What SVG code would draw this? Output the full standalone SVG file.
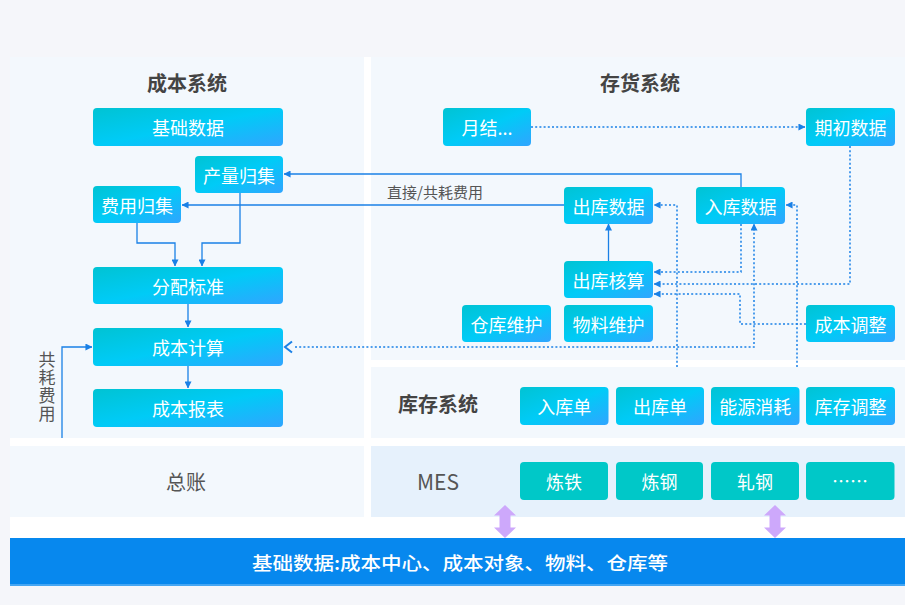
<svg xmlns="http://www.w3.org/2000/svg" width="905" height="605" viewBox="0 0 905 605">
<defs>
<linearGradient id="g" x1="0" y1="0" x2="1" y2="1">
<stop offset="0" stop-color="#00c3d3"/>
<stop offset="0.5" stop-color="#00cbf7"/>
<stop offset="1" stop-color="#30a5ff"/>
</linearGradient>
<marker id="a" viewBox="0 0 8 8" refX="7.5" refY="4" markerWidth="7" markerHeight="7" markerUnits="userSpaceOnUse" orient="auto">
<path d="M0,0 L8,4 L0,8 z" fill="#1a80e6"/>
</marker>
<style>
.bg{fill:#f5f6fa}
.panel{fill:#f3f8fd}
.mes{fill:#e6f1fc}
.box{fill:url(#g)}
.tbox{fill:#00c8c8}
.bt{font-family:"Noto Sans CJK SC","Noto Sans",sans-serif;font-size:18px;fill:#fff;text-anchor:middle;dominant-baseline:central}
.title{font-family:"Noto Sans CJK SC",sans-serif;font-size:20px;font-weight:bold;fill:#444;text-anchor:middle;dominant-baseline:central}
.lbl{font-family:"Noto Sans CJK SC",sans-serif;fill:#555;text-anchor:middle;dominant-baseline:central}
.ln{fill:none;stroke:#1a80e6;stroke-width:1.3}
.dt{fill:none;stroke:#1a80e6;stroke-width:1.5;stroke-dasharray:2 2.2}
.pa{fill:#cda8fb}
</style>
</defs>
<rect class="bg" x="0" y="0" width="905" height="605"/>
<rect x="10" y="57" width="895" height="481" fill="#ffffff"/>
<rect class="panel" x="10" y="57" width="354" height="381"/>
<rect class="panel" x="371" y="57" width="534" height="303"/>
<rect class="panel" x="371" y="367" width="534" height="71"/>
<rect class="panel" x="10" y="446" width="354" height="71"/>
<rect class="mes" x="371" y="446" width="534" height="71"/>

<g id="titles">
<text class="title" x="187" y="82">成本系统</text>
<text class="title" x="640" y="82">存货系统</text>
<text class="title" x="438" y="403">库存系统</text>
<text class="lbl" x="186" y="481" font-size="20">总账</text>
<text class="lbl" x="438" y="481" font-size="21" font-family="Liberation Sans,Noto Sans CJK SC,sans-serif">MES</text>
</g>

<g id="connectors">
<polyline class="ln" points="137,223 137,243 175,243 175,266" marker-end="url(#a)"/>
<polyline class="ln" points="240,193 240,243 202,243 202,266" marker-end="url(#a)"/>
<line class="ln" x1="188" y1="304" x2="188" y2="327" marker-end="url(#a)"/>
<line class="ln" x1="188" y1="366" x2="188" y2="388" marker-end="url(#a)"/>
<polyline class="ln" points="62,438 62,347 92,347" marker-end="url(#a)"/>
<polyline class="ln" points="741,187 741,174 284,174" marker-end="url(#a)"/>
<line class="ln" x1="564" y1="205" x2="182" y2="205" marker-end="url(#a)"/>
<line class="ln" x1="608.5" y1="261" x2="608.5" y2="224" marker-end="url(#a)"/>
<line class="dt" x1="531" y1="127" x2="805" y2="127" marker-end="url(#a)"/>
<polyline class="dt" points="677,367 677,205 654,205" marker-end="url(#a)"/>
<polyline class="dt" points="797,367 797,205 786,205" marker-end="url(#a)"/>
<polyline class="dt" points="741,224 741,272 654,272" marker-end="url(#a)"/>
<polyline class="dt" points="850,146 850,284 654,284" marker-end="url(#a)"/>
<polyline class="dt" points="806,324 740,324 740,294 654,294" marker-end="url(#a)"/>
<polyline class="dt" points="295,347 754,347 754,224" marker-end="url(#a)"/>
<polyline points="292,341.5 285,347 292,352.5" fill="none" stroke="#1a80e6" stroke-width="2"/>
<path class="pa" d="M505,505 L516,515.5 L510.5,515.5 L510.5,527.5 L516,527.5 L505,538 L494,527.5 L499.5,527.5 L499.5,515.5 L494,515.5 Z"/>
<path class="pa" d="M775,505 L786,515.5 L780.5,515.5 L780.5,527.5 L786,527.5 L775,538 L764,527.5 L769.5,527.5 L769.5,515.5 L764,515.5 Z"/>
</g>
<g id="edge-labels">
<text class="lbl" x="435" y="191" font-size="15">直接/共耗费用</text>
<text x="47" y="351" font-family="Noto Sans CJK SC,sans-serif" font-size="17" fill="#555" style="writing-mode:vertical-rl" letter-spacing="1">共耗费用</text>
</g>

<g id="n-jichu"><rect class="box" x="93" y="108" width="190" height="38" rx="4"/><text class="bt" x="188" y="127">基础数据</text></g>
<g id="n-chanliang"><rect class="box" x="195" y="156" width="88" height="37" rx="4"/><text class="bt" x="239" y="174.5">产量归集</text></g>
<g id="n-feiyong"><rect class="box" x="93" y="186" width="88" height="37" rx="4"/><text class="bt" x="137" y="204.5">费用归集</text></g>
<g id="n-fenpei"><rect class="box" x="93" y="267" width="190" height="37" rx="4"/><text class="bt" x="188" y="285.5">分配标准</text></g>
<g id="n-jisuan"><rect class="box" x="93" y="328" width="190" height="38" rx="4"/><text class="bt" x="188" y="347">成本计算</text></g>
<g id="n-baobiao"><rect class="box" x="93" y="389" width="190" height="38" rx="4"/><text class="bt" x="188" y="408">成本报表</text></g>

<g id="n-yuejie"><rect class="box" x="443" y="108" width="88" height="38" rx="4"/><text class="bt" x="487" y="127">月结...</text></g>
<g id="n-qichu"><rect class="box" x="806" y="108" width="89" height="38" rx="4"/><text class="bt" x="850.5" y="127">期初数据</text></g>
<g id="n-chuku"><rect class="box" x="564" y="187" width="89" height="37" rx="4"/><text class="bt" x="608.5" y="205.5">出库数据</text></g>
<g id="n-ruku"><rect class="box" x="696" y="187" width="89" height="37" rx="4"/><text class="bt" x="740.5" y="205.5">入库数据</text></g>
<g id="n-hesuan"><rect class="box" x="564" y="261" width="89" height="37" rx="4"/><text class="bt" x="608.5" y="279.5">出库核算</text></g>
<g id="n-cangku"><rect class="box" x="462" y="305" width="89" height="37" rx="4"/><text class="bt" x="506.5" y="323.5">仓库维护</text></g>
<g id="n-wuliao"><rect class="box" x="564" y="305" width="89" height="37" rx="4"/><text class="bt" x="608.5" y="323.5">物料维护</text></g>
<g id="n-tiaozheng"><rect class="box" x="806" y="305" width="89" height="37" rx="4"/><text class="bt" x="850.5" y="323.5">成本调整</text></g>

<g id="n-rukudan"><rect class="box" x="520" y="387" width="88.5" height="38" rx="4"/><text class="bt" x="564.3" y="406">入库单</text></g>
<g id="n-chukudan"><rect class="box" x="616" y="387" width="88" height="38" rx="4"/><text class="bt" x="660" y="406">出库单</text></g>
<g id="n-nengyuan"><rect class="box" x="711" y="387" width="88.5" height="38" rx="4"/><text class="bt" x="755.2" y="406">能源消耗</text></g>
<g id="n-kucun"><rect class="box" x="806" y="387" width="89" height="38" rx="4"/><text class="bt" x="850.5" y="406">库存调整</text></g>

<g id="n-liantie"><rect class="tbox" x="520" y="462" width="88" height="38" rx="4"/><text class="bt" x="564" y="481">炼铁</text></g>
<g id="n-liangang"><rect class="tbox" x="616" y="462" width="87" height="38" rx="4"/><text class="bt" x="659.5" y="481">炼钢</text></g>
<g id="n-zhagang"><rect class="tbox" x="711" y="462" width="88" height="38" rx="4"/><text class="bt" x="755" y="481">轧钢</text></g>
<g id="n-more"><rect class="tbox" x="806" y="462" width="88.5" height="38" rx="4"/><text class="bt" x="850" y="480">……</text></g>

<g id="n-base">
<rect x="10" y="538" width="895" height="48" fill="#0788ee"/>
<rect x="10" y="584" width="895" height="2" fill="#45a6f3"/>
<text class="bt" x="460" y="562" font-size="21" font-weight="500" textLength="416" lengthAdjust="spacingAndGlyphs">基础数据:成本中心、成本对象、物料、仓库等</text>
</g>
</svg>
